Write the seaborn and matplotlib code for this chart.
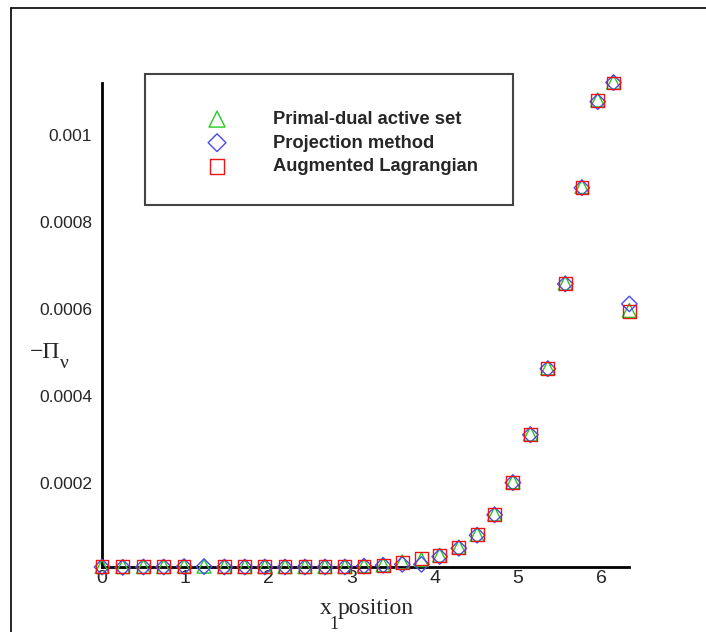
import numpy as np
import pandas as pd
import matplotlib
matplotlib.use("Agg")
import matplotlib.pyplot as plt
from matplotlib.lines import Line2D
from matplotlib.patches import Rectangle
from matplotlib.ticker import FixedLocator, MultipleLocator, FuncFormatter
import seaborn as sns

# ---------------- data ----------------
x_position = [0.0, 0.249, 0.498, 0.742, 0.987, 1.227, 1.472, 1.717, 1.957, 2.20,
              2.44, 2.68, 2.92, 3.15, 3.38, 3.61, 3.84, 4.06, 4.29, 4.51,
              4.72, 4.94, 5.15, 5.36, 5.57, 5.77, 5.96, 6.15, 6.34]
primal_dual = [8e-6, 8e-6, 8e-6, 8e-6, 9e-6, 9e-6, 8e-6, 8e-6, 8e-6, 8e-6,
               8e-6, 8e-6, 8e-6, 10e-6, 12e-6, 19e-6, 24e-6, 34e-6, 53e-6, 82e-6,
               0.000129, 0.000203, 0.000313, 0.000465, 0.000660, 0.000882, 0.001081, 0.001122, 0.000597]
projection = [7e-6, 6e-6, 7e-6, 7e-6, 8e-6, 8e-6, 7e-6, 7e-6, 7e-6, 7e-6,
              7e-6, 7e-6, 7e-6, 9e-6, 11e-6, 13e-6, 13e-6, 31e-6, 50e-6, 80e-6,
              0.000127, 0.000201, 0.000311, 0.000463, 0.000658, 0.000879, 0.001077, 0.001121, 0.000612]
augmented = [8e-6, 8e-6, 8e-6, 8e-6, 8e-6, np.nan, 8e-6, 8e-6, 8e-6, 8e-6,
             8e-6, 8e-6, 8e-6, 9e-6, 11e-6, 18e-6, 26e-6, 33e-6, 52e-6, 81e-6,
             0.000128, 0.000202, 0.000312, 0.000464, 0.000659, 0.000880, 0.001079, 0.001120, 0.000594]
series_names = ["Primal-dual active set", "Projection method", "Augmented Lagrangian"]
x_ticks = [0, 1, 2, 3, 4, 5, 6]
y_ticks = [0.0002, 0.0004, 0.0006, 0.0008, 0.001]

# ---------------- style ----------------
sns.set_style("white")
plt.rcParams["font.family"] = ["Liberation Sans", "DejaVu Sans"]

W, H = 706, 632
fig = plt.figure(figsize=(W / 100, H / 100), dpi=100)
ax = fig.add_axes([102 / W, 1 - 567 / H, (629 - 102) / W, (567 - 83) / H])

colors = {"Primal-dual active set": "#22cc22",
          "Projection method": "#4a4aee",
          "Augmented Lagrangian": "#ee1414"}
markers = {"Primal-dual active set": "^",
           "Projection method": "D",
           "Augmented Lagrangian": "s"}
sizes = {"Primal-dual active set": 100,
         "Projection method": 62,
         "Augmented Lagrangian": 85}

values = [primal_dual, projection, augmented]
draw_order = [1, 0, 2]
for i in draw_order:
    name = series_names[i]
    df = pd.DataFrame({"x": x_position, "y": values[i]}).dropna()
    sns.scatterplot(data=df, x="x", y="y", ax=ax, marker=markers[name],
                    s=sizes[name], facecolors="none", edgecolor=colors[name],
                    linewidth=1.0, clip_on=False, zorder=3 + i, label=name)

ax.set_xlim(0, 6.336)
ax.set_ylim(7e-6, 0.00112)

ax.xaxis.set_major_locator(FixedLocator(x_ticks))
ax.xaxis.set_minor_locator(MultipleLocator(0.2))
ax.yaxis.set_major_locator(FixedLocator(y_ticks))
ax.yaxis.set_minor_locator(MultipleLocator(0.00005))
ax.yaxis.set_major_formatter(FuncFormatter(lambda v, p: "%g" % v))
ax.xaxis.set_major_formatter(FuncFormatter(lambda v, p: "%d" % v))

for side in ["top", "right"]:
    ax.spines[side].set_visible(False)
for side in ["left", "bottom"]:
    ax.spines[side].set_linewidth(2.0)
    ax.spines[side].set_color("black")

ax.tick_params(which="major", direction="in", length=8, width=2.0, color="black")
ax.tick_params(which="minor", direction="in", length=4.5, width=0.8, color="#333333")
ax.tick_params(axis="y", which="major", labelsize=12.5, pad=7)
ax.tick_params(axis="x", which="major", labelsize=14, pad=2)
ax.set_xlabel("")
ax.set_ylabel("")

# legend (frame drawn as a separate box beneath the legend entries)
frame = Rectangle((145 / W, 1 - 205 / H), 368 / W, 131 / H,
                  transform=fig.transFigure, facecolor="white",
                  edgecolor="#444444", linewidth=1.5, zorder=8, clip_on=False)
ax.add_patch(frame)
handles, labels = ax.get_legend_handles_labels()
order = [labels.index(n) for n in series_names]
handles = [handles[k] for k in order]
labels = [labels[k] for k in order]
leg = ax.legend(handles, labels, loc="center left",
                bbox_to_anchor=(179 / W, 1 - 143 / H),
                bbox_transform=fig.transFigure,
                prop={"family": "Liberation Sans", "weight": "bold", "size": 13.2},
                frameon=False, borderpad=0, handlelength=4.15, handletextpad=1.0,
                labelspacing=0.36, markerscale=1.15, borderaxespad=0)
leg.set_zorder(10)

# axis labels
serif = ["Liberation Serif", "DejaVu Serif"]
fig.text(320 / W, 1 - 614 / H, "x", family=serif, fontsize=17, va="baseline", ha="left")
fig.text(329 / W, 1 - 629 / H, "1", family=serif, fontsize=13, va="baseline", ha="left")
fig.text(338 / W, 1 - 614 / H, "position", family=serif, fontsize=17, va="baseline", ha="left")
fig.text(30 / W, 1 - 358 / H, "\u2212\u03a0", family=serif, fontsize=17, va="baseline", ha="left")
fig.text(60 / W, 1 - 368 / H, "\u03bd", family=serif, fontsize=14, va="baseline", ha="left")

# outer frame
fig.add_artist(Line2D([11 / W, 11 / W], [0, 1 - 8 / H], transform=fig.transFigure,
                      color="black", linewidth=1.2))
fig.add_artist(Line2D([11 / W, 1], [1 - 8 / H, 1 - 8 / H], transform=fig.transFigure,
                      color="black", linewidth=1.2))

fig.savefig("out.png", dpi=100)
